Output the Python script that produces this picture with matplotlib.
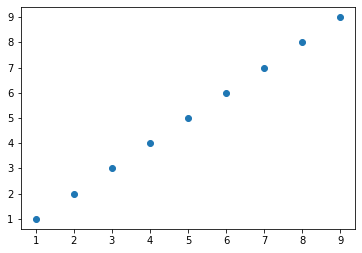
from matplotlib import pyplot as plt
import numpy as np

x_data = [1, 2, 3, 4, 5, 6, 7, 8, 9]
y_data = [1, 2, 3, 4, 5, 6, 7, 8, 9]

fig, ax = plt.subplots(figsize=(6, 4), dpi=72)
ax.scatter(x_data, y_data)

plt.savefig('out.png', dpi=72, bbox_inches='tight')
